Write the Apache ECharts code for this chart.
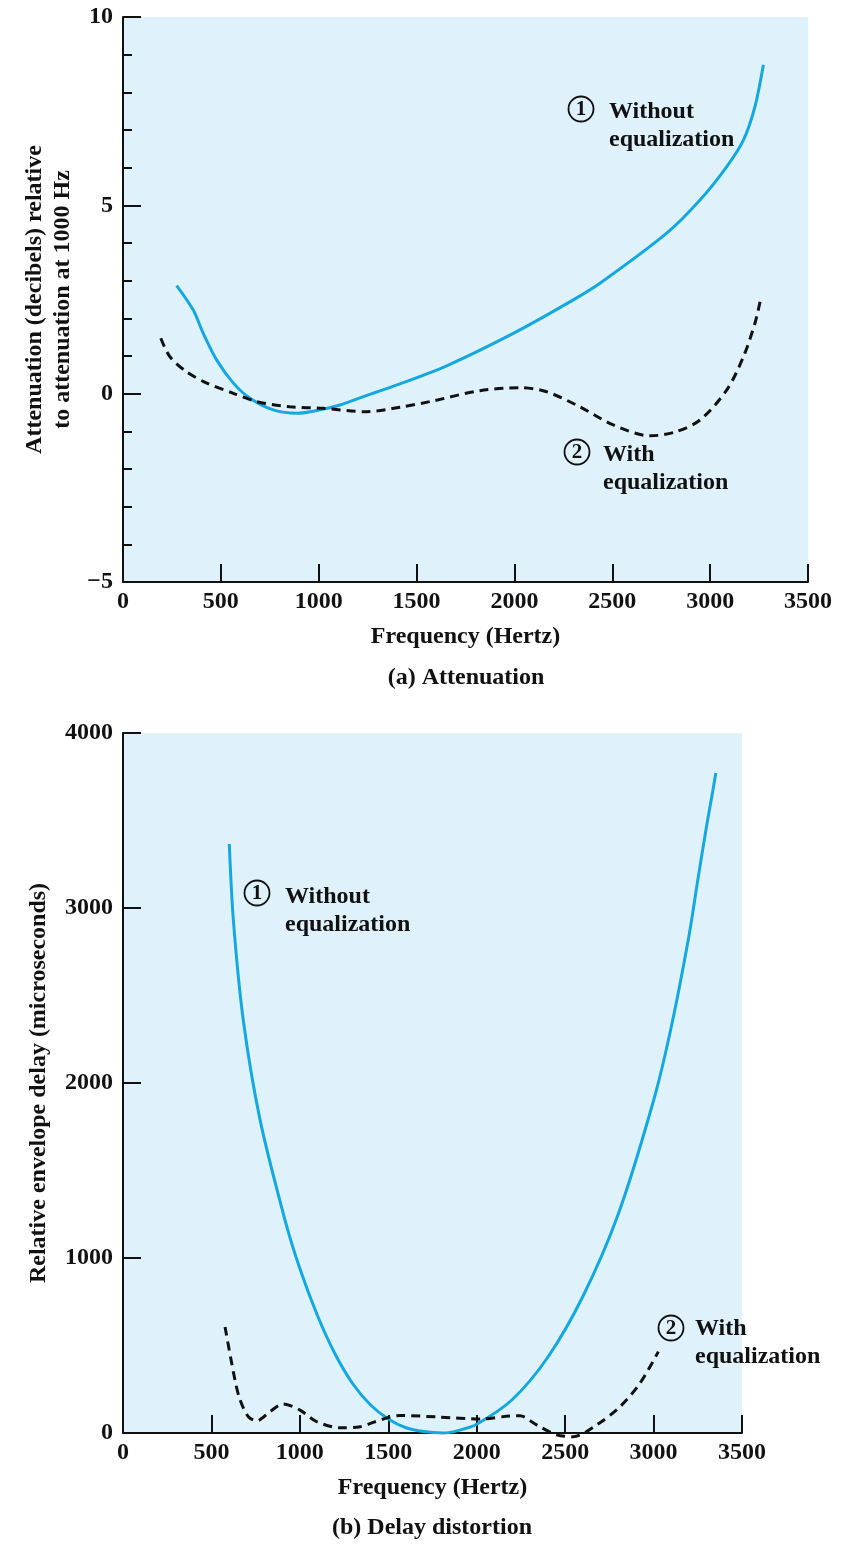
<!DOCTYPE html>
<html><head><meta charset="utf-8">
<script src="https://cdn.jsdelivr.net/npm/echarts@6/dist/echarts.min.js"></script>
<style>html,body{margin:0;padding:0;background:#fff}#c{width:859px;height:1544px}</style>
</head><body><div id="c"></div>
<script>
// (a) Attenuation, dB relative to 1000 Hz
const attFreqWithout = [274, 359, 410, 479, 564, 649, 768, 888, 1007, 1109, 1200, 1300, 1415, 1654, 1994, 2301, 2437, 2778, 2948, 3085, 3170, 3229, 3272];
const attWithout     = [2.87, 2.22, 1.60, 0.89, 0.28, -0.12, -0.43, -0.52, -0.43, -0.30, -0.13, 0.05, 0.26, 0.74, 1.60, 2.49, 2.93, 4.26, 5.14, 6.03, 6.73, 7.62, 8.73];
const attFreqWith    = [193, 240, 325, 428, 564, 683, 853, 1023, 1244, 1415, 1569, 1824, 2029, 2165, 2335, 2505, 2693, 2820, 2948, 3085, 3170, 3229, 3255];
const attWith        = [1.47, 0.98, 0.58, 0.28, 0.01, -0.21, -0.35, -0.39, -0.48, -0.36, -0.21, 0.08, 0.16, 0.05, -0.35, -0.83, -1.12, -1.02, -0.70, 0.10, 0.98, 1.87, 2.44];
// (b) Delay distortion, microseconds
const delFreqWithout = [601, 624, 680, 775, 916, 1000, 1100, 1200, 1300, 1400, 1500, 1600, 1700, 1809, 1900, 2000, 2200, 2400, 2600, 2800, 3000, 3100, 3200, 3250, 3300, 3335, 3352];
const delWithout     = [3366, 2931, 2360, 1789, 1217, 940, 670, 450, 280, 160, 80, 30, 8, 0, 15, 50, 190, 430, 780, 1250, 1900, 2320, 2840, 3160, 3470, 3670, 3771];
const delFreqWith    = [577, 633, 662, 709, 756, 831, 906, 1001, 1095, 1227, 1340, 1420, 1491, 1566, 1792, 2018, 2188, 2245, 2339, 2452, 2546, 2678, 2810, 2923, 3027];
const delWith        = [606, 303, 189, 93, 70, 122, 166, 131, 65, 30, 36, 62, 86, 100, 91, 80, 97, 98, 46, -11, -21, 46, 150, 284, 465];

const xTicks = [0, 500, 1000, 1500, 2000, 2500, 3000, 3500];
const attTicks = [-5, 0, 5, 10];
const delTicks = [0, 1000, 2000, 3000, 4000];

const zip = (a, b) => a.map((v, i) => [v, b[i]]);
const FONT = '"Liberation Serif", "Times New Roman", serif';
const INK = '#111';
const BLUE = '#13A8E0';
const BG = '#DFF2FB';
const lbl = { fontFamily: FONT, fontWeight: 'bold', fontSize: 24, color: INK };
const axLine = { onZero: false, lineStyle: { color: INK, width: 2 } };
const tick = { inside: true, length: 18, lineStyle: { color: INK, width: 2 } };
const plain = v => String(v).replace('-', '\u2212');

function xAx(g) {
  return { gridIndex: g, type: 'value', min: xTicks[0], max: xTicks[xTicks.length - 1], interval: xTicks[1] - xTicks[0],
    axisLine: axLine, axisTick: tick, splitLine: { show: false },
    axisLabel: Object.assign({ margin: 8, formatter: plain }, lbl),
    name: 'Frequency (Hertz)', nameLocation: 'middle', nameGap: 41,
    nameTextStyle: Object.assign({ lineHeight: 28 }, lbl) };
}

const chart = echarts.init(document.getElementById('c'), null, { renderer: 'canvas' });
chart.setOption({
  animation: false,
  grid: [
    { left: 123, top: 17, width: 685, height: 565, show: true, backgroundColor: BG, borderWidth: 0 },
    { left: 123, top: 733, width: 619, height: 700, show: true, backgroundColor: BG, borderWidth: 0 }
  ],
  xAxis: [xAx(0), xAx(1)],
  yAxis: [
    { gridIndex: 0, type: 'value', min: attTicks[0], max: attTicks[attTicks.length - 1], interval: 5,
      axisLine: Object.assign({ show: true }, axLine), axisTick: Object.assign({ show: true }, tick),
      minorTick: { show: true, splitNumber: 5, length: 9, lineStyle: { color: INK, width: 2 } },
      splitLine: { show: false }, minorSplitLine: { show: false },
      axisLabel: Object.assign({ margin: 10, formatter: plain }, lbl),
      name: 'Attenuation (decibels) relative\nto attenuation at 1000 Hz', nameLocation: 'middle', nameGap: 40,
      nameTextStyle: Object.assign({ lineHeight: 28 }, lbl) },
    { gridIndex: 1, type: 'value', min: delTicks[0], max: delTicks[delTicks.length - 1], interval: 1000,
      axisLine: Object.assign({ show: true }, axLine), axisTick: Object.assign({ show: true }, tick),
      splitLine: { show: false },
      axisLabel: Object.assign({ margin: 10, formatter: plain }, lbl),
      name: 'Relative envelope delay (microseconds)', nameLocation: 'middle', nameGap: 70,
      nameTextStyle: Object.assign({ lineHeight: 28 }, lbl) }
  ],
  series: [
    { type: 'line', xAxisIndex: 0, yAxisIndex: 0, data: zip(attFreqWithout, attWithout), showSymbol: false, smooth: 0.3,
      lineStyle: { color: BLUE, width: 3 }, clip: false },
    { type: 'line', xAxisIndex: 0, yAxisIndex: 0, data: zip(attFreqWith, attWith), showSymbol: false, smooth: 0.3,
      lineStyle: { color: INK, width: 3, type: [9, 6] }, clip: false },
    { type: 'line', xAxisIndex: 1, yAxisIndex: 1, data: zip(delFreqWithout, delWithout), showSymbol: false, smooth: 0.3,
      lineStyle: { color: BLUE, width: 3 }, clip: false },
    { type: 'line', xAxisIndex: 1, yAxisIndex: 1, data: zip(delFreqWith, delWith), showSymbol: false, smooth: 0.3,
      lineStyle: { color: INK, width: 3, type: [9, 6] }, clip: false }
  ],
  graphic: (function () {
    const els = [];
    const f = 'bold 24px ' + FONT;
    function note(cx, cy, num, tx, ty1, ty2, line1) {
      els.push({ type: 'circle', shape: { cx: cx, cy: cy, r: 12.5 }, style: { fill: 'none', stroke: INK, lineWidth: 1.8 }, z: 10 });
      els.push({ type: 'text', x: cx, y: cy + 1, style: { text: num, font: 'bold 21px ' + FONT, fill: INK, align: 'center', verticalAlign: 'middle' }, z: 10 });
      els.push({ type: 'text', x: tx, y: ty1, style: { text: line1, font: f, fill: INK, align: 'left', verticalAlign: 'middle' }, z: 10 });
      els.push({ type: 'text', x: tx, y: ty2, style: { text: 'equalization', font: f, fill: INK, align: 'left', verticalAlign: 'middle' }, z: 10 });
    }
    note(581, 109, '1', 609, 112, 140, 'Without');
    note(577, 452, '2', 603, 455, 483, 'With');
    note(257, 893, '1', 285, 897, 925, 'Without');
    note(671, 1328, '2', 695, 1329, 1357, 'With');
    els.push({ type: 'text', x: 466, y: 678, style: { text: '(a) Attenuation', font: f, fill: INK, align: 'center', verticalAlign: 'middle' } });
    els.push({ type: 'text', x: 432, y: 1528, style: { text: '(b) Delay distortion', font: f, fill: INK, align: 'center', verticalAlign: 'middle' } });
    return els;
  })()
});
</script>
</body></html>
